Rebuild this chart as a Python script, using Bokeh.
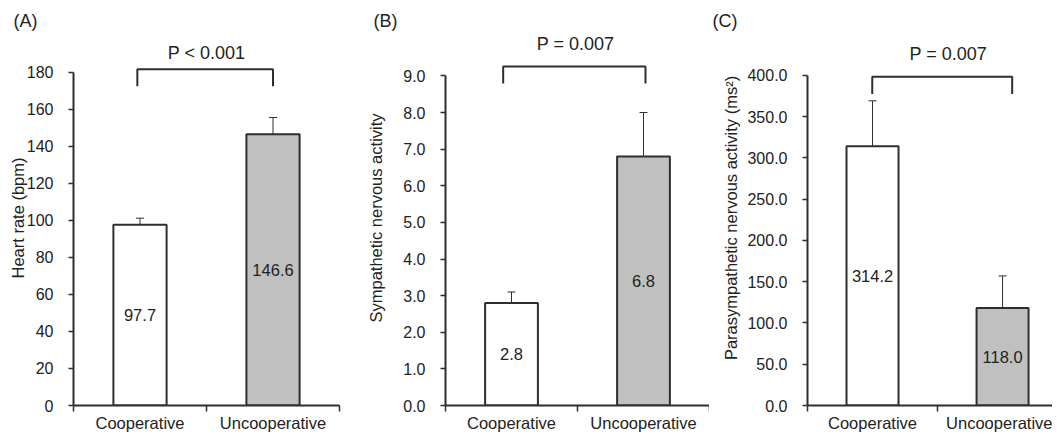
from bokeh.plotting import figure
from bokeh.layouts import row
from bokeh.models import (Range1d, FixedTicker, PrintfTickFormatter, Label, Title,
                          Whisker, TeeHead, ColumnDataSource)
from bokeh.embed import file_html
from bokeh.resources import INLINE

# ---------------- data ----------------
categories = ["Cooperative", "Uncooperative"]
bar_colors = ["#ffffff", "#c0c0c0"]

heart_rate = [97.7, 146.6]
heart_rate_err = [3.5, 9.0]
sympathetic = [2.8, 6.8]
sympathetic_err = [0.3, 1.2]
parasympathetic = [314.2, 118.0]
parasympathetic_err = [55.0, 39.0]

p_labels = ["P < 0.001", "P = 0.007", "P = 0.007"]
panel_letters = ["(A)", "(B)", "(C)"]
y_titles = ["Heart rate (bpm)", "Sympathetic nervous activity",
            "Parasympathetic nervous activity (ms\u00b2)"]
y_ticks_a = [0, 20, 40, 60, 80, 100, 120, 140, 160, 180]
y_ticks_b = [0, 1, 2, 3, 4, 5, 6, 7, 8, 9]
y_ticks_c = [0, 50, 100, 150, 200, 250, 300, 350, 400]

FONT = "Liberation Sans"
TXT = "#222222"
LINE = "#2e2e2e"
HEIGHT = 434


def make_panel(letter, vals, errs, ytitle, yticks, fmt, ptext, cfg):
    x = [i + 0.5 for i in range(len(categories))]
    p = figure(width=cfg["w"], height=HEIGHT, output_backend="svg",
               toolbar_location=None,
               x_range=Range1d(0, cfg["xend"]), y_range=Range1d(0, cfg["yend"]),
               min_border_left=cfg["ml"], min_border_right=cfg["mr"],
               min_border_top=30, min_border_bottom=HEIGHT - 406)
    p.title = Title(text=letter, align="left", offset=cfg["toff"], standoff=0,
                    text_font=FONT, text_font_size="18px", text_font_style="normal",
                    text_color=TXT)
    p.outline_line_color = None
    p.xgrid.visible = False
    p.ygrid.visible = False
    p.background_fill_color = "white"
    p.border_fill_color = "white"

    src = ColumnDataSource(dict(x=x, top=vals,
                                upper=[v + e for v, e in zip(vals, errs)],
                                mid=[v / 2 for v in vals],
                                lab=["%.1f" % v for v in vals],
                                color=bar_colors))
    wh = Whisker(source=src, base="x", lower="top", upper="upper",
                 line_color=LINE, line_width=1,
                 upper_head=TeeHead(size=8, line_color=LINE, line_width=1),
                 lower_head=None)
    p.add_layout(wh)
    p.vbar(x="x", top="top", bottom=0, width=0.4, source=src,
           fill_color="color", line_color=LINE, line_width=2)
    p.text(x="x", y="mid", text="lab", source=src, text_align="center",
           text_baseline="middle", text_font_size="16.5px",
           text_color=TXT, text_font={"value": FONT})

    # significance bracket
    bx0, bx1, btop, bdrop = cfg["bracket"]
    p.line([bx0, bx0, bx1, bx1], [bdrop, btop, btop, bdrop],
           line_color=LINE, line_width=2)
    p.add_layout(Label(x=cfg["px"], y=cfg["py"], text=ptext,
                       text_align="center", text_baseline="middle",
                       text_font=FONT, text_font_size="18px", text_color=TXT))

    # x axis (ticks at category boundaries)
    xa = p.xaxis[0]
    xa.ticker = FixedTicker(ticks=x, minor_ticks=[0, 1, 2])
    xa.major_label_overrides = {xv: c for xv, c in zip(x, categories)}
    xa.major_tick_out = 0
    xa.major_tick_in = 0
    xa.minor_tick_out = 6
    xa.minor_tick_in = 0
    xa.minor_tick_line_width = 1.5
    xa.minor_tick_line_color = LINE
    xa.axis_line_width = 2
    xa.axis_line_color = LINE
    xa.major_label_standoff = 2
    xa.major_label_text_font = FONT
    xa.major_label_text_font_size = "16.5px"
    xa.major_label_text_color = TXT

    ya = p.yaxis[0]
    ya.ticker = FixedTicker(ticks=yticks, minor_ticks=[])
    ya.formatter = PrintfTickFormatter(format=fmt)
    ya.bounds = (yticks[0], yticks[-1])
    ya.major_tick_out = 5
    ya.major_tick_in = 0
    ya.minor_tick_out = 0
    ya.minor_tick_in = 0
    ya.major_tick_line_width = 1.5
    ya.major_tick_line_color = LINE
    ya.axis_line_width = 2
    ya.axis_line_color = LINE
    ya.major_label_standoff = cfg["lstand"]
    ya.major_label_text_font = FONT
    ya.major_label_text_font_size = "16px"
    ya.major_label_text_color = TXT
    ya.axis_label = ytitle
    ya.axis_label_standoff = cfg["tstand"]
    ya.axis_label_text_font = FONT
    ya.axis_label_text_font_size = "16.5px"
    ya.axis_label_text_font_style = "normal"
    ya.axis_label_text_color = TXT
    return p


cfg_a = dict(w=360, ml=73, mr=21, xend=2.0, yend=202.6, lstand=15, tstand=-3,
             bracket=(0.48, 1.50, 181.6, 172.5), px=1.0, py=190.2, toff=-60)
cfg_b = dict(w=349, ml=85, mr=0, xend=2.0, yend=10.24, lstand=15, tstand=15,
             bracket=(0.437, 1.515, 9.26, 8.79), px=0.985, py=9.88, toff=-72)
cfg_c = dict(w=343, ml=98, mr=0, xend=1.884, yend=454.4, lstand=15, tstand=4,
             bracket=(0.498, 1.574, 398.4, 377.4), px=1.083, py=426.0, toff=-95)

pa = make_panel(panel_letters[0], heart_rate, heart_rate_err, y_titles[0],
                y_ticks_a, "%d", p_labels[0], cfg_a)
pb = make_panel(panel_letters[1], sympathetic, sympathetic_err, y_titles[1],
                y_ticks_b, "%.1f", p_labels[1], cfg_b)
pc = make_panel(panel_letters[2], parasympathetic, parasympathetic_err, y_titles[2],
                y_ticks_c, "%.1f", p_labels[2], cfg_c)

layout = row(pa, pb, pc, spacing=0)
open("out.html", "w").write(file_html(layout, INLINE))
